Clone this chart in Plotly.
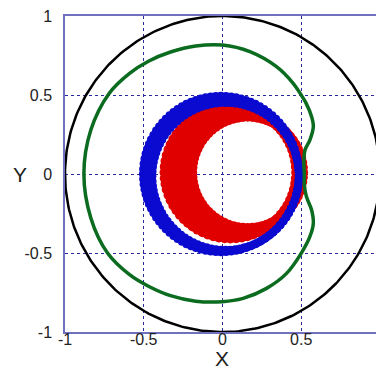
import numpy as np
import plotly.graph_objects as go

# ---- data ----
tick_vals = [-1, -0.5, 0, 0.5, 1]
tick_text = ["-1", "-0.5", "0", "0.5", "1"]

# unit boundary circle
boundary_radius = 1.0

# green closed curve (counter-clockwise from the right pinch)
green_x = [0.52, 0.517, 0.524, 0.555, 0.577, 0.566, 0.53, 0.5, 0.449, 0.343, 0.174, 0.0,
           -0.17, -0.33, -0.47, -0.59, -0.72, -0.836, -0.88,
           -0.836, -0.73, -0.59, -0.47, -0.33, -0.17, 0.0,
           0.131, 0.28, 0.407, 0.5, 0.555, 0.577, 0.566, 0.533, 0.52, 0.52]
green_y = [0.0, 0.068, 0.152, 0.215, 0.30, 0.363, 0.45, 0.5, 0.574, 0.679, 0.774, 0.816,
           0.81, 0.772, 0.714, 0.637, 0.51, 0.278, 0.0,
           -0.278, -0.5, -0.637, -0.71, -0.77, -0.805, -0.808,
           -0.787, -0.724, -0.629, -0.502, -0.397, -0.312, -0.228, -0.143, -0.07, 0.0]

# blue ring family: centres and radii
blue_cx = [-0.01, 0.0, 0.01, 0.02]
blue_cy = [0.0, -0.005, -0.01, -0.015]
blue_r = [0.495, 0.485, 0.475, 0.465]

# red ring family: centres and radii
red_cx = [0.05, 0.064, 0.078, 0.092, 0.106, 0.12, 0.134, 0.147, 0.16]
red_cy = [0.01, 0.01, 0.01, 0.01, 0.01, 0.01, 0.01, 0.01, 0.01]
red_r = [0.418, 0.410, 0.402, 0.394, 0.386, 0.377, 0.369, 0.36, 0.352]

n_blue = 96
n_red = 72


def ring_points(cx, cy, rs, n):
    xs, ys = [], []
    t = np.linspace(0, 2 * np.pi, n, endpoint=False)
    for a, b, r in zip(cx, cy, rs):
        xs.extend(a + r * np.cos(t))
        ys.extend(b + r * np.sin(t))
    return xs, ys


bx, by = ring_points(blue_cx, blue_cy, blue_r, n_blue)
rx, ry = ring_points(red_cx, red_cy, red_r, n_red)

tc = np.linspace(0, 2 * np.pi, 361)
cx_line = boundary_radius * np.cos(tc)
cy_line = boundary_radius * np.sin(tc)

fig = go.Figure()
fig.add_trace(go.Scatter(x=rx, y=ry, mode="markers",
                         marker=dict(color="#e00000", size=10, line=dict(width=0)),
                         hoverinfo="skip"))
fig.add_trace(go.Scatter(x=bx, y=by, mode="markers",
                         marker=dict(color="#0a0ad0", size=8, line=dict(width=0)),
                         hoverinfo="skip"))
fig.add_trace(go.Scatter(x=green_x, y=green_y, mode="lines",
                         line=dict(color="#0b6b1f", width=3.5, shape="spline", smoothing=1.0),
                         hoverinfo="skip"))
fig.add_trace(go.Scatter(x=cx_line, y=cy_line, mode="lines",
                         line=dict(color="black", width=2.5), hoverinfo="skip"))

font = dict(family="Liberation Sans, Arial, sans-serif", size=16, color="#222222")
title_font = dict(family="Liberation Sans, Arial, sans-serif", size=21, color="#222222")

fig.update_layout(
    width=376, height=370,
    margin=dict(l=65, r=0, t=16, b=38),
    paper_bgcolor="white", plot_bgcolor="white",
    showlegend=False,
    font=font,
    xaxis=dict(range=[-1, 0.975], tickvals=tick_vals, ticktext=tick_text,
               showgrid=True, gridcolor="#2a2a9a", griddash="dot", gridwidth=1,
               zeroline=False, showline=True, linecolor="#7070c0", linewidth=1.5,
               mirror=True, ticks="", ticklen=0, tickfont=font, ticklabelstandoff=-8),
    yaxis=dict(range=[-1, 1], tickvals=tick_vals, ticktext=tick_text,
               showgrid=True, gridcolor="#2a2a9a", griddash="dot", gridwidth=1,
               zeroline=False, showline=True, linecolor="#7070c0", linewidth=1.5,
               mirror=False, ticks="", ticklen=0, tickfont=font, ticklabelstandoff=8),
    annotations=[
        dict(text="X", x=0, xref="x", y=0, yref="paper", yshift=-40, yanchor="bottom",
             showarrow=False, font=title_font),
        dict(text="Y", xref="paper", x=-0.1447, y=0, yref="y", showarrow=False,
             font=title_font, xanchor="center"),
    ],
)

fig.write_html("out.html")
